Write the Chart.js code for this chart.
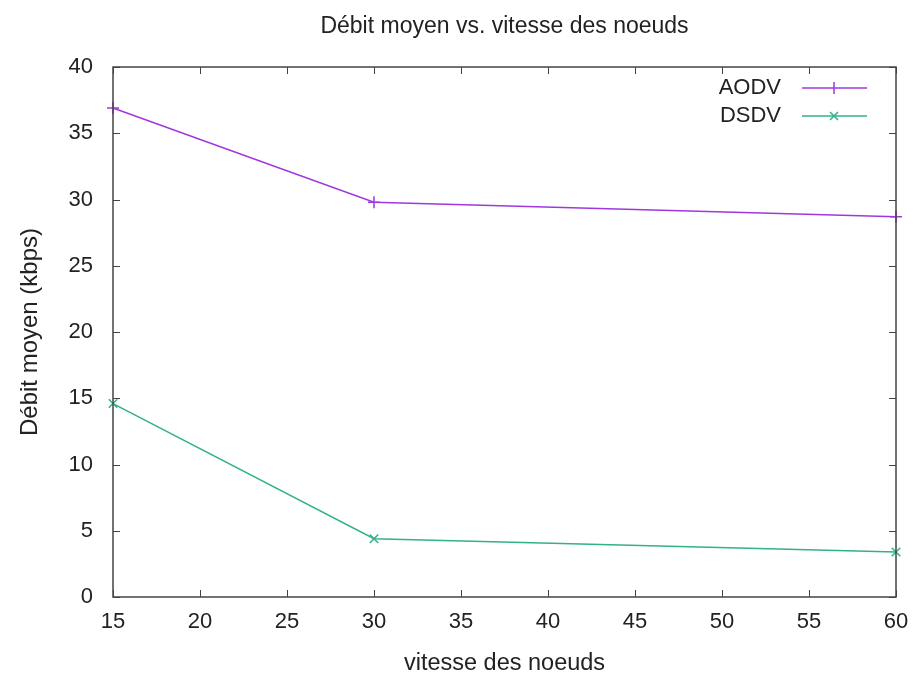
<!DOCTYPE html>
<html>
<head>
<meta charset="utf-8">
<script src="https://cdn.jsdelivr.net/npm/chart.js@4.4.0/dist/chart.umd.min.js"></script>
<style>
  html, body { margin: 0; padding: 0; background: #fff; }
  #wrap { width: 913px; height: 675px; }
</style>
</head>
<body>
<div id="wrap"><canvas id="chart"></canvas></div>
<script>
const TITLE = "Débit moyen vs. vitesse des noeuds";
const X_TITLE = "vitesse des noeuds";
const Y_TITLE = "Débit moyen (kbps)";

const speeds = [15, 30, 60];
const aodv = [36.9, 29.8, 28.7];
const dsdv = [14.6, 4.4, 3.4];
const seriesNames = ["AODV", "DSDV"];

const xTicks = [15, 20, 25, 30, 35, 40, 45, 50, 55, 60];
const yTicks = [0, 5, 10, 15, 20, 25, 30, 35, 40];

const FONT = "'Liberation Sans', Arial, sans-serif";
const PURPLE = "rgb(160, 55, 222)";
const GREEN = "rgb(50, 176, 140)";
const AXIS = "#444";

// gnuplot-style frame: box + inward ticks on all four sides
const framePlugin = {
  id: "frame",
  afterDatasetsDraw(chart) {
    const { ctx, chartArea: a, scales } = chart;
    ctx.save();
    ctx.strokeStyle = AXIS;
    ctx.lineWidth = 1.5;
    ctx.strokeRect(a.left, a.top, a.right - a.left, a.bottom - a.top);
    ctx.lineWidth = 1;
    const len = 7;
    ctx.beginPath();
    xTicks.forEach((v) => {
      const px = Math.round(scales.x.getPixelForValue(v)) + 0.5;
      ctx.moveTo(px, a.bottom);
      ctx.lineTo(px, a.bottom - len);
      ctx.moveTo(px, a.top);
      ctx.lineTo(px, a.top + len);
    });
    yTicks.forEach((v) => {
      const py = Math.round(scales.y.getPixelForValue(v)) + 0.5;
      ctx.moveTo(a.left, py);
      ctx.lineTo(a.left + len, py);
      ctx.moveTo(a.right, py);
      ctx.lineTo(a.right - len, py);
    });
    ctx.stroke();
    ctx.restore();
  },
};

// title centred on the plot, legend inside top-right
const textPlugin = {
  id: "texts",
  afterDraw(chart) {
    const { ctx, chartArea: a } = chart;
    ctx.save();
    ctx.fillStyle = "#222";
    ctx.font = "23px " + FONT;
    ctx.textAlign = "center";
    ctx.textBaseline = "middle";
    ctx.fillText(TITLE, (a.left + a.right) / 2, 27);

    ctx.font = "22px " + FONT;
    const rows = [88, 116];
    chart.data.datasets.forEach((ds, i) => {
      const y = rows[i];
      ctx.fillStyle = "#222";
      ctx.textAlign = "right";
      ctx.fillText(ds.label, 781, y);
      ctx.strokeStyle = ds.borderColor;
      ctx.lineWidth = 1.5;
      ctx.beginPath();
      ctx.moveTo(802, y);
      ctx.lineTo(867, y);
      ctx.stroke();
      ctx.beginPath();
      if (ds.pointStyle === "cross") {
        ctx.moveTo(834, y - 6);
        ctx.lineTo(834, y + 6);
      } else {
        ctx.moveTo(830, y - 4);
        ctx.lineTo(838, y + 4);
        ctx.moveTo(830, y + 4);
        ctx.lineTo(838, y - 4);
      }
      ctx.stroke();
    });
    ctx.restore();
  },
};

new Chart(document.getElementById("chart"), {
  type: "line",
  data: {
    datasets: [
      {
        label: seriesNames[0],
        data: speeds.map((x, i) => ({ x, y: aodv[i] })),
        borderColor: PURPLE,
        backgroundColor: PURPLE,
        borderWidth: 1.5,
        pointStyle: "cross",
        pointRadius: 6,
        pointBorderWidth: 1.5,
        tension: 0,
        clip: false,
      },
      {
        label: seriesNames[1],
        data: speeds.map((x, i) => ({ x, y: dsdv[i] })),
        borderColor: GREEN,
        backgroundColor: GREEN,
        borderWidth: 1.5,
        pointStyle: "crossRot",
        pointRadius: 6,
        pointBorderWidth: 1.5,
        tension: 0,
        clip: false,
      },
    ],
  },
  options: {
    responsive: true,
    maintainAspectRatio: false,
    animation: false,
    layout: { padding: { top: 67, right: 17, left: 0, bottom: 0 } },
    plugins: {
      legend: { display: false },
      title: { display: false },
      tooltip: { enabled: false },
    },
    scales: {
      x: {
        type: "linear",
        min: 15,
        max: 60,
        afterBuildTicks: (s) => { s.ticks = xTicks.map((v) => ({ value: v })); },
        afterFit: (s) => {
          s.height = 78;
          s.paddingLeft = 0;
          s.paddingRight = 0;
        },
        grid: { display: false, drawTicks: false },
        border: { display: false },
        ticks: { padding: 12, color: "#222", font: { family: FONT, size: 22 } },
        title: {
          display: true,
          text: X_TITLE,
          color: "#222",
          font: { family: FONT, size: 23.5 },
          padding: { top: 0, bottom: -3 },
        },
      },
      y: {
        min: 0,
        max: 40,
        afterBuildTicks: (s) => { s.ticks = yTicks.map((v) => ({ value: v })); },
        afterFit: (s) => { s.width = 113; },
        grid: { display: false, drawTicks: false },
        border: { display: false },
        ticks: { padding: 20, color: "#222", font: { family: FONT, size: 22 } },
        title: {
          display: true,
          text: Y_TITLE,
          color: "#222",
          font: { family: FONT, size: 24 },
          padding: { top: 16, bottom: 0 },
        },
      },
    },
  },
  plugins: [framePlugin, textPlugin],
});
</script>
</body>
</html>
